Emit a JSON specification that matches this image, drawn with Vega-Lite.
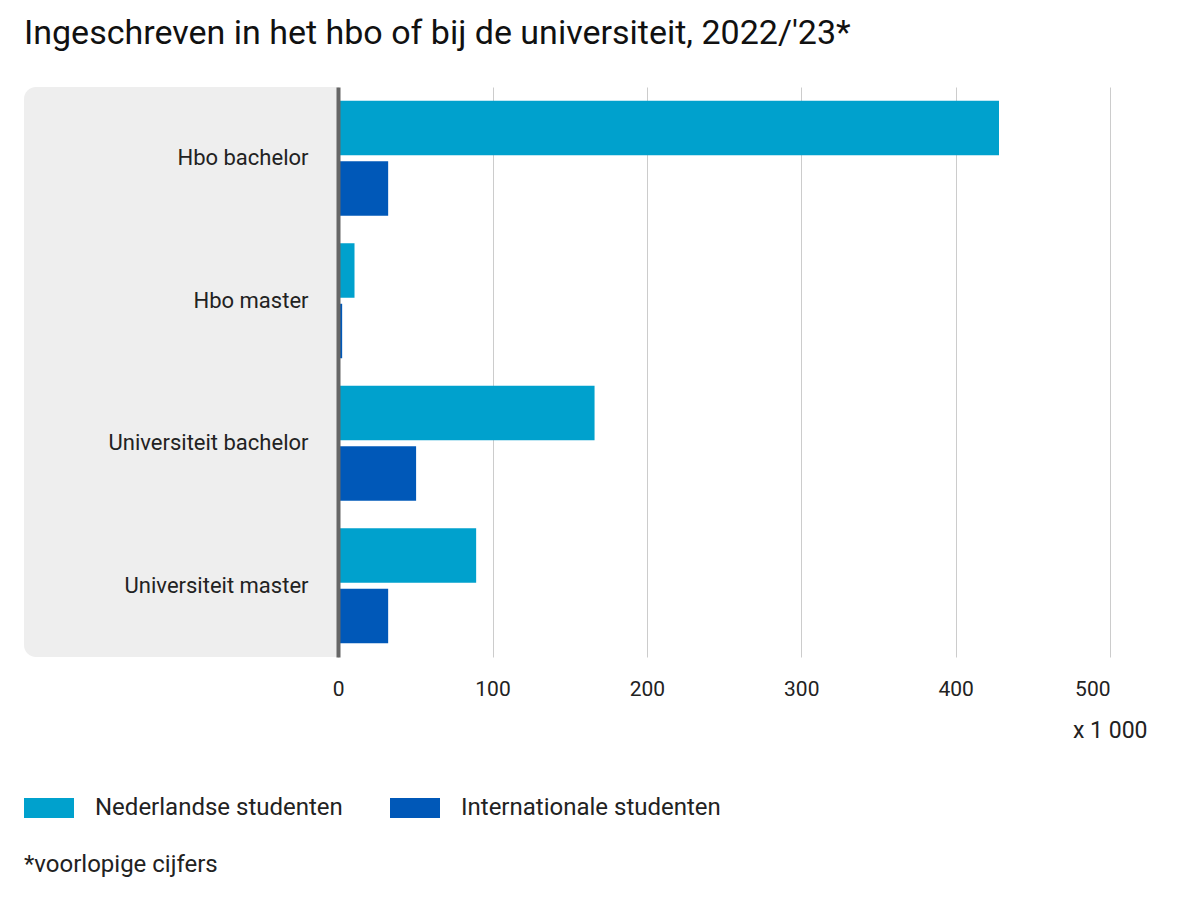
{
  "$schema": "https://vega.github.io/schema/vega-lite/v6.json",
  "autosize": {"type": "none"},
  "width": 1086,
  "height": 570,
  "padding": {"left": 24, "top": 87, "right": 90, "bottom": 243},
  "background": "white",
  "config": {
    "font": "Roboto",
    "view": {"stroke": null}
  },
  "title": {
    "text": "Ingeschreven in het hbo of bij de universiteit, 2022/'23*",
    "anchor": "start",
    "frame": "group",
    "fontSize": 34,
    "fontWeight": "normal",
    "color": "#111111",
    "baseline": "alphabetic",
    "offset": 9,
    "limit": 1150
  },
  "layer": [
    {
      "data": {"values": [{}]},
      "mark": {"type": "rect", "color": "#eeeeee", "cornerRadiusTopLeft": 12, "cornerRadiusBottomLeft": 12},
      "encoding": {
        "x": {"datum": -203.5, "type": "quantitative", "scale": {"domain": [-203.5, 500], "nice": false, "zero": false}},
        "x2": {"datum": 0}
      }
    },
    {
      "data": {
        "values": [
          {"opleiding": "Hbo bachelor", "groep": "Nederlandse studenten", "aantal": 428.1},
          {"opleiding": "Hbo bachelor", "groep": "Internationale studenten", "aantal": 32.4},
          {"opleiding": "Hbo master", "groep": "Nederlandse studenten", "aantal": 10.6},
          {"opleiding": "Hbo master", "groep": "Internationale studenten", "aantal": 2.6},
          {"opleiding": "Universiteit bachelor", "groep": "Nederlandse studenten", "aantal": 166.1},
          {"opleiding": "Universiteit bachelor", "groep": "Internationale studenten", "aantal": 50.5},
          {"opleiding": "Universiteit master", "groep": "Nederlandse studenten", "aantal": 89.4},
          {"opleiding": "Universiteit master", "groep": "Internationale studenten", "aantal": 32.4}
        ]
      },
      "mark": {"type": "bar"},
      "encoding": {
        "y": {
          "field": "opleiding",
          "type": "nominal",
          "sort": ["Hbo bachelor", "Hbo master", "Universiteit bachelor", "Universiteit master"],
          "scale": {"paddingInner": 0.193, "paddingOuter": 0.0965},
          "axis": {
            "title": null,
            "orient": "left",
            "offset": -314,
            "zindex": 1,
            "domainColor": "#666666",
            "domainWidth": 4,
            "ticks": false,
            "labelFontSize": 22,
            "labelColor": "#222222",
            "labelPadding": 30,
            "labelLimit": 300
          }
        },
        "yOffset": {
          "field": "groep",
          "type": "nominal",
          "sort": ["Nederlandse studenten", "Internationale studenten"],
          "scale": {"paddingInner": 0.1}
        },
        "x": {
          "field": "aantal",
          "type": "quantitative",
          "axis": {
            "values": [0, 100, 200, 300, 400, 500],
            "domain": false,
            "ticks": false,
            "grid": true,
            "gridColor": "#cccccc",
            "gridWidth": 1,
            "labelFontSize": 21,
            "labelColor": "#222222",
            "labelPadding": 21,
            "title": "x 1 000",
            "titleFontSize": 23,
            "titleFontWeight": "normal",
            "titleColor": "#222222",
            "titleAlign": "right",
            "titleAnchor": "end",
            "titleX": 1123,
            "titleY": 73,
            "titleBaseline": "middle"
          }
        },
        "color": {
          "field": "groep",
          "type": "nominal",
          "sort": ["Nederlandse studenten", "Internationale studenten"],
          "scale": {"domain": ["Nederlandse studenten", "Internationale studenten"], "range": ["#00a1cd", "#0058b8"]},
          "legend": {
            "orient": "none",
            "legendX": 0,
            "legendY": 696,
            "direction": "horizontal",
            "title": "*voorlopige cijfers",
            "titleOrient": "bottom",
            "titleAnchor": "start",
            "titleFontSize": 24,
            "titleFontWeight": "normal",
            "titleColor": "#222222",
            "titlePadding": 33,
            "titleLimit": 400,
            "symbolType": "M-1,-0.4H1V0.4H-1Z",
            "symbolSize": 2500,
            "symbolStrokeWidth": 0,
            "labelFontSize": 24,
            "labelColor": "#222222",
            "labelOffset": 21,
            "labelLimit": 400,
            "columnPadding": 47
          }
        }
      }
    }
  ]
}
